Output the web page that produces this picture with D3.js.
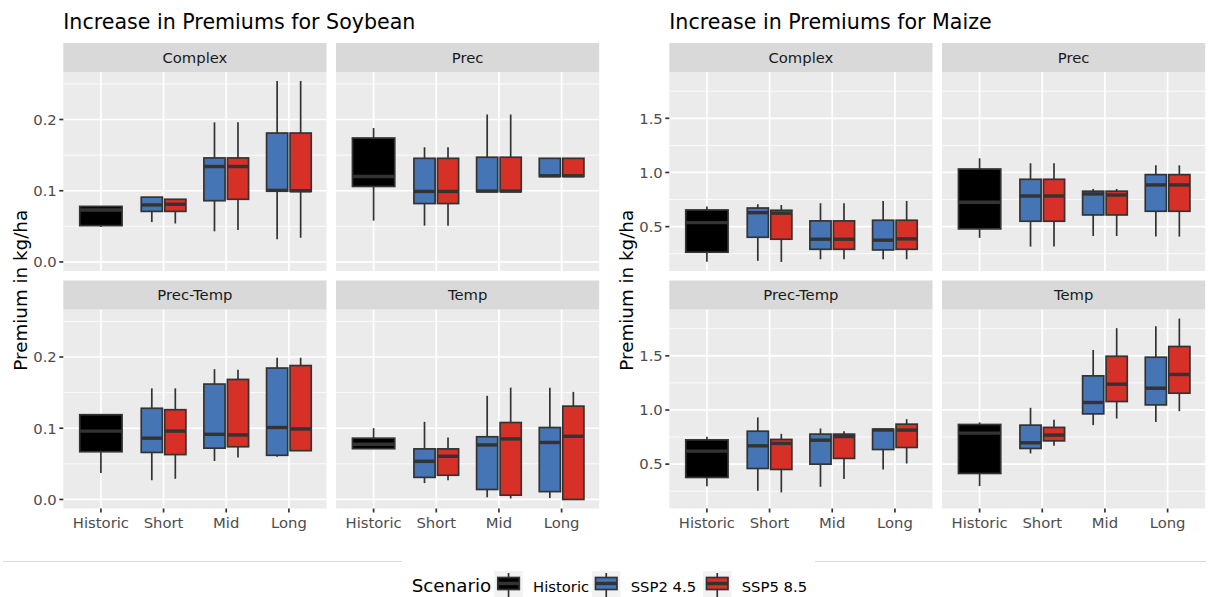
<!DOCTYPE html>
<html><head><meta charset="utf-8">
<script src="https://cdn.jsdelivr.net/npm/d3@7"></script>
<style>
body{margin:0;background:#fff}
svg{display:block;font-family:"DejaVu Sans",sans-serif}
</style>
</head><body>
<svg id="chart" width="1209" height="597"></svg>
<script>
const periods = ["Historic", "Short", "Mid", "Long"];
const scenarios = ["Historic", "SSP2 4.5", "SSP5 8.5"];
const facets = ["Complex", "Prec", "Prec-Temp", "Temp"];
const scenarioColors = ["#000000", "#4575b4", "#d73027"];
const soyTicks = [0, 0.1, 0.2];
const maizeTicks = [0.5, 1.0, 1.5];

// rows: [period, scenario, lower whisker, q1, median, q3, upper whisker]
const soyComplex = [
  ["Historic", "Historic", 0.049, 0.051, 0.073, 0.078, 0.078],
  ["Short", "SSP2 4.5", 0.056, 0.071, 0.080, 0.091, 0.091],
  ["Short", "SSP5 8.5", 0.054, 0.071, 0.081, 0.088, 0.088],
  ["Mid", "SSP2 4.5", 0.043, 0.086, 0.134, 0.146, 0.196],
  ["Mid", "SSP5 8.5", 0.045, 0.088, 0.134, 0.146, 0.196],
  ["Long", "SSP2 4.5", 0.032, 0.0995, 0.1005, 0.181, 0.254],
  ["Long", "SSP5 8.5", 0.034, 0.099, 0.100, 0.181, 0.254]
];
const soyPrec = [
  ["Historic", "Historic", 0.058, 0.106, 0.120, 0.174, 0.188],
  ["Short", "SSP2 4.5", 0.051, 0.082, 0.099, 0.1455, 0.161],
  ["Short", "SSP5 8.5", 0.051, 0.082, 0.099, 0.1455, 0.161],
  ["Mid", "SSP2 4.5", 0.0986, 0.0986, 0.0995, 0.147, 0.207],
  ["Mid", "SSP5 8.5", 0.0986, 0.0986, 0.0995, 0.147, 0.207],
  ["Long", "SSP2 4.5", 0.120, 0.120, 0.121, 0.1455, 0.1455],
  ["Long", "SSP5 8.5", 0.120, 0.120, 0.121, 0.1455, 0.1455]
];
const soyPrecTemp = [
  ["Historic", "Historic", 0.037, 0.067, 0.096, 0.119, 0.119],
  ["Short", "SSP2 4.5", 0.027, 0.066, 0.086, 0.128, 0.156],
  ["Short", "SSP5 8.5", 0.029, 0.063, 0.096, 0.126, 0.156],
  ["Mid", "SSP2 4.5", 0.054, 0.072, 0.0915, 0.162, 0.183],
  ["Mid", "SSP5 8.5", 0.059, 0.074, 0.0906, 0.1685, 0.182],
  ["Long", "SSP2 4.5", 0.060, 0.062, 0.101, 0.1845, 0.199],
  ["Long", "SSP5 8.5", 0.0685, 0.0685, 0.099, 0.188, 0.199]
];
const soyTemp = [
  ["Historic", "Historic", 0.0713, 0.0713, 0.0775, 0.086, 0.100],
  ["Short", "SSP2 4.5", 0.023, 0.031, 0.0535, 0.071, 0.109],
  ["Short", "SSP5 8.5", 0.027, 0.034, 0.0606, 0.071, 0.087],
  ["Mid", "SSP2 4.5", 0.003, 0.014, 0.0765, 0.088, 0.1455],
  ["Mid", "SSP5 8.5", 0.0014, 0.006, 0.085, 0.108, 0.157],
  ["Long", "SSP2 4.5", 0.002, 0.011, 0.080, 0.101, 0.157],
  ["Long", "SSP5 8.5", 0.000, 0.000, 0.0887, 0.131, 0.151]
];
const maizeComplex = [
  ["Historic", "Historic", 0.177, 0.264, 0.537, 0.654, 0.685],
  ["Short", "SSP2 4.5", 0.184, 0.402, 0.629, 0.672, 0.707],
  ["Short", "SSP5 8.5", 0.174, 0.384, 0.624, 0.651, 0.700],
  ["Mid", "SSP2 4.5", 0.199, 0.291, 0.384, 0.553, 0.716],
  ["Mid", "SSP5 8.5", 0.199, 0.291, 0.384, 0.553, 0.716],
  ["Long", "SSP2 4.5", 0.199, 0.285, 0.375, 0.559, 0.737],
  ["Long", "SSP5 8.5", 0.199, 0.291, 0.387, 0.559, 0.737]
];
const maizePrec = [
  ["Historic", "Historic", 0.396, 0.479, 0.725, 1.032, 1.131],
  ["Short", "SSP2 4.5", 0.316, 0.550, 0.783, 0.937, 1.085],
  ["Short", "SSP5 8.5", 0.316, 0.550, 0.783, 0.937, 1.085],
  ["Mid", "SSP2 4.5", 0.414, 0.608, 0.802, 0.827, 0.848],
  ["Mid", "SSP5 8.5", 0.414, 0.608, 0.792, 0.827, 0.848],
  ["Long", "SSP2 4.5", 0.408, 0.642, 0.885, 0.980, 1.066],
  ["Long", "SSP5 8.5", 0.408, 0.642, 0.885, 0.980, 1.066]
];
const maizePrecTemp = [
  ["Historic", "Historic", 0.297, 0.377, 0.620, 0.724, 0.752],
  ["Short", "SSP2 4.5", 0.254, 0.460, 0.669, 0.804, 0.931],
  ["Short", "SSP5 8.5", 0.239, 0.451, 0.691, 0.728, 0.780],
  ["Mid", "SSP2 4.5", 0.291, 0.500, 0.721, 0.777, 0.829],
  ["Mid", "SSP5 8.5", 0.362, 0.553, 0.755, 0.777, 0.804],
  ["Long", "SSP2 4.5", 0.451, 0.635, 0.815, 0.823, 0.823],
  ["Long", "SSP5 8.5", 0.506, 0.654, 0.814, 0.869, 0.915]
];
const maizeTemp = [
  ["Historic", "Historic", 0.297, 0.414, 0.786, 0.866, 0.885],
  ["Short", "SSP2 4.5", 0.599, 0.645, 0.697, 0.860, 1.020],
  ["Short", "SSP5 8.5", 0.669, 0.715, 0.768, 0.839, 0.909],
  ["Mid", "SSP2 4.5", 0.860, 0.964, 1.069, 1.315, 1.554],
  ["Mid", "SSP5 8.5", 0.921, 1.078, 1.238, 1.496, 1.755],
  ["Long", "SSP2 4.5", 0.890, 1.047, 1.201, 1.487, 1.773],
  ["Long", "SSP5 8.5", 0.989, 1.155, 1.328, 1.586, 1.844]
];

const plots = [
  { title: "Increase in Premiums for Soybean", panels: [soyComplex, soyPrec, soyPrecTemp, soyTemp], ticks: soyTicks, left: 63.3, yTitleX: 27 },
  { title: "Increase in Premiums for Maize", panels: [maizeComplex, maizePrec, maizePrecTemp, maizeTemp], ticks: maizeTicks, left: 669.3, yTitleX: 633 }
];

const svg = d3.select("#chart");
const color = d3.scaleOrdinal().domain(scenarios).range(scenarioColors);
const fmt = d3.format(".1f");

const panelW = 263.2, colGap = 9.5;
const stripH = 29, panelH = 199;
const stripTops = [43, 280.5];
const lw = 1.7;
const ink = "#333333";
const small = 14.8, mid = 18.3, big = 20.6;

plots.forEach(p => {
  // shared y domain across facets, padded 5% on each side
  const all = p.panels.flat().flatMap(r => r.slice(2));
  const lo = d3.min(all), hi = d3.max(all), pad = (hi - lo) * 0.05;
  const domain = [lo - pad, hi + pad];
  const step = p.ticks[1] - p.ticks[0];
  const minor = [p.ticks[0] - step / 2, ...p.ticks.map(t => t + step / 2)]
    .filter(v => v > domain[0] && v < domain[1]);

  svg.append("text").attr("x", p.left).attr("y", 29)
    .attr("font-size", big).attr("fill", "#000").text(p.title);

  svg.append("text")
    .attr("transform", `translate(${p.yTitleX},${(stripTops[0] + stripH + stripTops[1] + stripH + panelH) / 2}) rotate(-90)`)
    .attr("text-anchor", "middle").attr("font-size", mid).attr("fill", "#000")
    .text("Premium in kg/ha");

  p.panels.forEach((rows, i) => {
    const col = i % 2, row = Math.floor(i / 2);
    const x0 = p.left + col * (panelW + colGap);
    const sTop = stripTops[row];
    const pTop = sTop + stripH;
    const y = d3.scaleLinear().domain(domain).range([pTop + panelH, pTop]);
    const x = d3.scalePoint().domain(periods).range([x0, x0 + panelW]).padding(0.6);
    const bw = x.step();
    const g = svg.append("g");

    g.append("rect").attr("x", x0).attr("y", pTop).attr("width", panelW).attr("height", panelH).attr("fill", "#ebebeb");
    g.selectAll(".minor").data(minor).join("line")
      .attr("x1", x0).attr("x2", x0 + panelW).attr("y1", d => y(d)).attr("y2", d => y(d))
      .attr("stroke", "#fff").attr("stroke-width", 0.85);
    g.selectAll(".major").data(p.ticks).join("line")
      .attr("x1", x0).attr("x2", x0 + panelW).attr("y1", d => y(d)).attr("y2", d => y(d))
      .attr("stroke", "#fff").attr("stroke-width", lw);
    g.selectAll(".vgrid").data(periods).join("line")
      .attr("x1", d => x(d)).attr("x2", d => x(d)).attr("y1", pTop).attr("y2", pTop + panelH)
      .attr("stroke", "#fff").attr("stroke-width", lw);

    // dodged boxes: 0.75 of a category slot, 10% padding between neighbours
    const boxes = rows.map(r => {
      const group = rows.filter(q => q[0] === r[0]);
      const n = group.length, k = group.indexOf(r);
      const slot = 0.75 * bw / n;
      const cx = x(r[0]) - 0.375 * bw + slot * (k + 0.5);
      return { r, cx, w: slot * 0.9 };
    });

    const bg = g.selectAll(".box").data(boxes).join("g");
    bg.append("line").attr("x1", d => d.cx).attr("x2", d => d.cx)
      .attr("y1", d => y(d.r[5])).attr("y2", d => y(d.r[6]))
      .attr("stroke", ink).attr("stroke-width", lw);
    bg.append("line").attr("x1", d => d.cx).attr("x2", d => d.cx)
      .attr("y1", d => y(d.r[3])).attr("y2", d => y(d.r[2]))
      .attr("stroke", ink).attr("stroke-width", lw);
    bg.append("rect")
      .attr("x", d => d.cx - d.w / 2).attr("width", d => d.w)
      .attr("y", d => y(d.r[5])).attr("height", d => y(d.r[3]) - y(d.r[5]))
      .attr("fill", d => color(d.r[1])).attr("stroke", ink).attr("stroke-width", lw);
    bg.append("line")
      .attr("x1", d => d.cx - d.w / 2).attr("x2", d => d.cx + d.w / 2)
      .attr("y1", d => y(d.r[4])).attr("y2", d => y(d.r[4]))
      .attr("stroke", ink).attr("stroke-width", lw * 2);

    // facet strip
    g.append("rect").attr("x", x0).attr("y", sTop).attr("width", panelW).attr("height", stripH).attr("fill", "#d9d9d9");
    g.append("text").attr("x", x0 + panelW / 2).attr("y", sTop + stripH / 2).attr("dy", "0.35em")
      .attr("text-anchor", "middle").attr("font-size", small).attr("fill", "#1a1a1a").text(facets[i]);

    if (col === 0) {
      const ax = g.selectAll(".ytick").data(p.ticks).join("g");
      ax.append("line").attr("x1", x0 - 4).attr("x2", x0).attr("y1", d => y(d)).attr("y2", d => y(d))
        .attr("stroke", ink).attr("stroke-width", lw);
      ax.append("text").attr("x", x0 - 6.5).attr("y", d => y(d)).attr("dy", "0.36em")
        .attr("text-anchor", "end").attr("font-size", small).attr("fill", "#4d4d4d").text(d => fmt(d));
    }
    if (row === 1) {
      const ax = g.selectAll(".xtick").data(periods).join("g");
      ax.append("line").attr("x1", d => x(d)).attr("x2", d => x(d)).attr("y1", pTop + panelH).attr("y2", pTop + panelH + 4)
        .attr("stroke", ink).attr("stroke-width", lw);
      ax.append("text").attr("x", d => x(d)).attr("y", pTop + panelH + 19.5)
        .attr("text-anchor", "middle").attr("font-size", small).attr("fill", "#4d4d4d").text(d => d);
    }
  });
});

// legend strip along the bottom
svg.append("line").attr("x1", 3).attr("x2", 402).attr("y1", 561.5).attr("y2", 561.5).attr("stroke", "#d9d9d9").attr("stroke-width", 1.2);
svg.append("line").attr("x1", 815).attr("x2", 1206).attr("y1", 561.5).attr("y2", 561.5).attr("stroke", "#d9d9d9").attr("stroke-width", 1.2);

const legBase = 591.5;
svg.append("text").attr("x", 411.7).attr("y", legBase).attr("font-size", mid).attr("fill", "#000").text("Scenario");
const keyX = [494.3, 592, 703];
const labX = [533, 630.7, 741.7];
scenarios.forEach((s, i) => {
  const kx = keyX[i], kw = 28.5, top = 571;
  const cx = kx + kw / 2;
  svg.append("rect").attr("x", kx).attr("y", top).attr("width", kw).attr("height", 30).attr("fill", "#f2f2f2");
  svg.append("line").attr("x1", cx).attr("x2", cx).attr("y1", top + 2).attr("y2", 600).attr("stroke", ink).attr("stroke-width", lw);
  svg.append("rect").attr("x", kx + 3.5).attr("y", 577.5).attr("width", kw - 7).attr("height", 12)
    .attr("fill", color(s)).attr("stroke", ink).attr("stroke-width", lw);
  svg.append("line").attr("x1", kx + 3.5).attr("x2", kx + kw - 3.5).attr("y1", 583.5).attr("y2", 583.5)
    .attr("stroke", ink).attr("stroke-width", lw * 2);
  svg.append("text").attr("x", labX[i]).attr("y", legBase).attr("font-size", small).attr("fill", "#000").text(s);
});
</script>
</body></html>
